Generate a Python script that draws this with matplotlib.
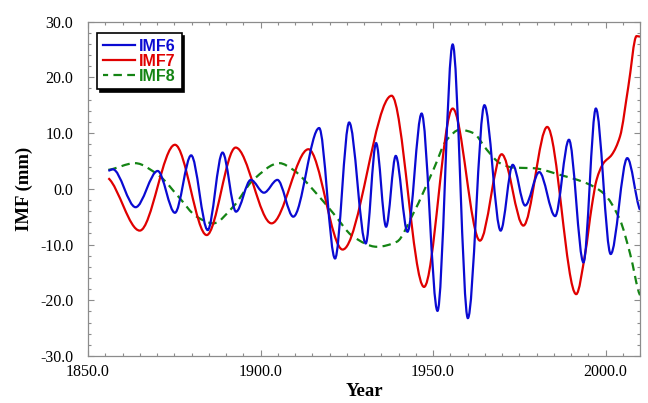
import numpy as np
import matplotlib
matplotlib.use("Agg")
import matplotlib.pyplot as plt
from matplotlib.path import Path
from matplotlib.patches import PathPatch
from matplotlib.lines import Line2D
from matplotlib.ticker import MultipleLocator, FormatStrFormatter

# ---- data (turning points + a few in-between points) ----
imf6_year = [1855.9, 1857.2, 1863.8, 1870.2, 1875.2, 1879.9, 1884.7, 1889.0, 1892.9,
             1897.2, 1901.0, 1904.9, 1909.5, 1917.0, 1921.6, 1925.7, 1930.5, 1933.5,
             1936.4, 1939.2, 1942.6, 1946.7, 1951.3, 1955.7, 1960.1, 1964.9, 1969.6,
             1973.1, 1976.7, 1980.8, 1985.4, 1989.4, 1993.6, 1997.2, 2001.5, 2006.3, 2010.0]
imf6_val = [3.25, 3.5, -3.3, 3.2, -4.3, 6.0, -7.4, 6.5, -4.1,
            1.6, -0.7, 1.6, -5.0, 10.9, -12.5, 11.9, -9.8, 8.2,
            -6.8, 5.9, -7.7, 13.5, -21.9, 25.9, -23.2, 15.0, -7.5,
            4.3, -3.0, 3.0, -4.9, 8.8, -13.2, 14.4, -11.7, 5.5, -3.8]

imf7_year = [1855.9, 1865.0, 1875.2, 1884.4, 1892.8, 1903.2, 1913.9, 1923.8, 1938.0,
             1947.4, 1955.7, 1963.6, 1969.9, 1976.2, 1983.1, 1991.5, 1994.1, 1996.0,
             1997.4, 1999.4, 2001.8, 2004.2, 2006.6, 2009.0, 2010.0]
imf7_val = [1.9, -7.5, 7.9, -8.3, 7.4, -6.2, 7.1, -10.9, 16.7,
            -17.6, 14.4, -9.3, 6.2, -6.6, 11.1, -18.9, -11.6, -3.2,
            1.6, 4.6, 6.1, 9.4, 18.3, 27.4, 27.3]

imf8_year = [1855.9, 1863.6, 1870.9, 1876.2, 1881.5, 1886.3, 1892.1, 1897.9, 1905.5,
             1909.5, 1915.3, 1921.1, 1926.9, 1933.7, 1939.5, 1944.3, 1950.1, 1954.0,
             1957.8, 1961.7, 1965.6, 1969.4, 1973.3, 1979.1, 1986.8, 1994.5, 1999.4,
             2004.2, 2007.1, 2010.0]
imf8_val = [3.4, 4.6, 2.2, -1.4, -5.0, -6.2, -3.2, 1.6, 4.6,
            3.4, -0.2, -4.4, -8.6, -10.4, -9.5, -4.4, 3.4, 8.8,
            10.6, 10.0, 7.0, 4.6, 3.8, 3.7, 2.5, 1.0, -0.8,
            -5.6, -11.6, -19.1]

BLUE = "#0a0ad2"
RED = "#e00000"
GREEN = "#148414"
DASH = (0, (3.8, 2.4))


def bezier_path(x, y):
    # monotone cubic tangents -> bezier control points, matplotlib draws the curve
    x = np.asarray(x, float)
    y = np.asarray(y, float)
    h = np.diff(x)
    d = np.diff(y) / h
    m = np.zeros_like(y)
    for i in range(1, len(y) - 1):
        if d[i - 1] * d[i] > 0:
            w1 = 2 * h[i] + h[i - 1]
            w2 = h[i] + 2 * h[i - 1]
            m[i] = (w1 + w2) / (w1 / d[i - 1] + w2 / d[i])
    m[0] = d[0] * 0.5
    m[-1] = d[-1] * 0.5
    verts = [(x[0], y[0])]
    codes = [Path.MOVETO]
    for i in range(len(x) - 1):
        verts.append((x[i] + h[i] / 3, y[i] + m[i] * h[i] / 3))
        verts.append((x[i + 1] - h[i] / 3, y[i + 1] - m[i + 1] * h[i] / 3))
        verts.append((x[i + 1], y[i + 1]))
        codes += [Path.CURVE4] * 3
    return Path(verts, codes)


fig = plt.figure(figsize=(6.48, 4.03), dpi=100)
ax = fig.add_axes([0.1358, 0.1166, 0.8519, 0.8298])

LW = 1.6
ax.add_patch(PathPatch(bezier_path(imf8_year, imf8_val), fill=False, edgecolor=GREEN,
                       lw=LW, linestyle=DASH, capstyle="butt"))
ax.add_patch(PathPatch(bezier_path(imf7_year, imf7_val), fill=False, edgecolor=RED, lw=LW))
ax.add_patch(PathPatch(bezier_path(imf6_year, imf6_val), fill=False, edgecolor=BLUE, lw=LW))

ax.set_xlim(1850, 2010)
ax.set_ylim(-30, 30)
ax.xaxis.set_major_locator(MultipleLocator(50))
ax.xaxis.set_minor_locator(MultipleLocator(5))
ax.yaxis.set_major_locator(MultipleLocator(10))
ax.yaxis.set_minor_locator(MultipleLocator(2))
ax.xaxis.set_major_formatter(FormatStrFormatter("%.1f"))
ax.yaxis.set_major_formatter(FormatStrFormatter("%.1f"))

for s in ax.spines.values():
    s.set_color("#8c8c8c")
    s.set_linewidth(0.9)
ax.tick_params(which="both", direction="in", top=True, right=True, color="#8c8c8c")
ax.tick_params(which="major", length=4.5, width=0.8)
ax.tick_params(which="minor", length=2.3, width=0.8)
ax.tick_params(axis="y", which="major", pad=10.5)
ax.tick_params(axis="x", which="major", pad=6)
for lab in ax.get_xticklabels() + ax.get_yticklabels():
    lab.set_fontfamily("Liberation Serif")
    lab.set_fontsize(11.5)

ax.set_xlabel("Year", fontfamily="Liberation Serif", fontweight="bold", fontsize=13.5, labelpad=2)
ax.set_ylabel("IMF (mm)", fontfamily="Liberation Serif", fontweight="bold", fontsize=13.5, labelpad=5)

handles = [Line2D([], [], color=BLUE, lw=LW),
           Line2D([], [], color=RED, lw=LW),
           Line2D([], [], color=GREEN, lw=LW, linestyle=(1.5, (3.8, 2.4)))]
leg = ax.legend(handles, ["IMF6", "IMF7", "IMF8"], loc="upper left",
                bbox_to_anchor=(0.0163, 0.966), borderaxespad=0,
                prop={"family": "Liberation Sans", "weight": "bold", "size": 11.5},
                handlelength=2.0, handletextpad=0.3, labelspacing=0.0, borderpad=0.35,
                fancybox=False, framealpha=1, edgecolor="black",
                shadow={"facecolor": "black", "edgecolor": "black", "alpha": 1})
leg.get_frame().set_linewidth(1.2)
for txt, c in zip(leg.get_texts(), [BLUE, RED, GREEN]):
    txt.set_color(c)

fig.savefig("out.png", dpi=100)
